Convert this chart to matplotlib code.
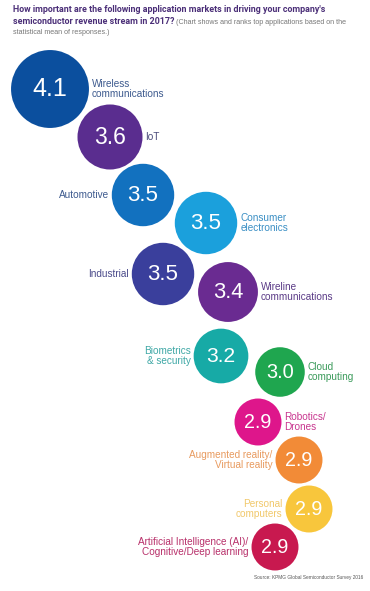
import matplotlib
matplotlib.use("Agg")
import matplotlib.pyplot as plt
from matplotlib.patches import Circle

# data
apps = [
    "Wireless\ncommunications", "IoT", "Automotive", "Consumer\nelectronics",
    "Industrial", "Wireline\ncommunications", "Biometrics\n& security",
    "Cloud\ncomputing", "Robotics/\nDrones", "Augmented reality/\nVirtual reality",
    "Personal\ncomputers", "Artificial Intelligence (AI)/\nCognitive/Deep learning",
]
scores = [4.1, 3.6, 3.5, 3.5, 3.5, 3.4, 3.2, 3.0, 2.9, 2.9, 2.9, 2.9]

# layout (pixel space of the page) and styles
cx = [50, 110, 143, 206, 163, 228, 221, 280, 258, 299, 309, 275]
cy = [89, 137, 195, 223, 274, 292, 356, 372, 422, 460, 509, 547]
label_side = ["r", "r", "l", "r", "l", "r", "l", "r", "r", "l", "l", "l"]
fills = ["#0b4f9e", "#5a2d8f", "#1271bf", "#1ba0dc", "#3a3f9c", "#6a2b91",
         "#17aaa6", "#1fa64f", "#de168b", "#f28b37", "#f8c63c", "#c8194f"]
text_cols = ["#3d5a8e", "#4a4a7a", "#3d5a8e", "#3a8fc4", "#4a4a8a", "#5a3a86",
             "#3fa8a6", "#3a9a5a", "#c8358e", "#e89a5e", "#f1c86a", "#b8306a"]

W, H = 370, 591
fig = plt.figure(figsize=(W / 100, H / 100), dpi=100)
ax = fig.add_axes([0, 0, 1, 1])
ax.set_xlim(0, W)
ax.set_ylim(H, 0)
ax.set_aspect("equal")
ax.axis("off")

for i, (name, v) in enumerate(zip(apps, scores)):
    r = 12.9 * (v - 1.08)
    ax.add_patch(Circle((cx[i], cy[i]), r, color=fills[i], lw=0))
    ax.text(cx[i], cy[i] + 0.5, f"{v:.1f}", color="white", ha="center", va="center",
            fontsize=8 + 0.26 * r, family="Liberation Sans")
    if label_side[i] == "r":
        ax.text(cx[i] + r + 3, cy[i], name, ha="left", va="center", fontsize=7.2,
                color=text_cols[i], family="Liberation Sans", linespacing=1.0)
    else:
        ax.text(cx[i] - r - 3, cy[i], name, ha="right", va="center", fontsize=7.2,
                color=text_cols[i], family="Liberation Sans", linespacing=1.0,
                multialignment="right")

title1 = "How important are the following application markets in driving your company's"
title2 = "semiconductor revenue stream in 2017?"
ax.text(13, 9, title1, fontsize=6.4, fontweight="bold", color="#4b2f78",
        family="Roboto", va="center")
t2 = ax.text(13, 22, title2, fontsize=6.4, fontweight="bold", color="#4b2f78",
             family="Roboto", va="center")
fig.canvas.draw()
bb = t2.get_window_extent()
x_end = bb.x1
ax.annotate(" (Chart shows and ranks top applications based on the",
            xy=(x_end, H - 22), xycoords="figure pixels", fontsize=5.1,
            color="#777777", family="Liberation Sans", va="center")
ax.text(13, 33, "statistical mean of responses.)", fontsize=5.1, color="#777777",
        family="Liberation Sans", va="center")
ax.text(363, 578, "Source: KPMG Global Semiconductor Survey 2016", fontsize=3.4,
        color="#555555", family="Liberation Sans", ha="right", va="center")

fig.savefig("out.png", dpi=100)
